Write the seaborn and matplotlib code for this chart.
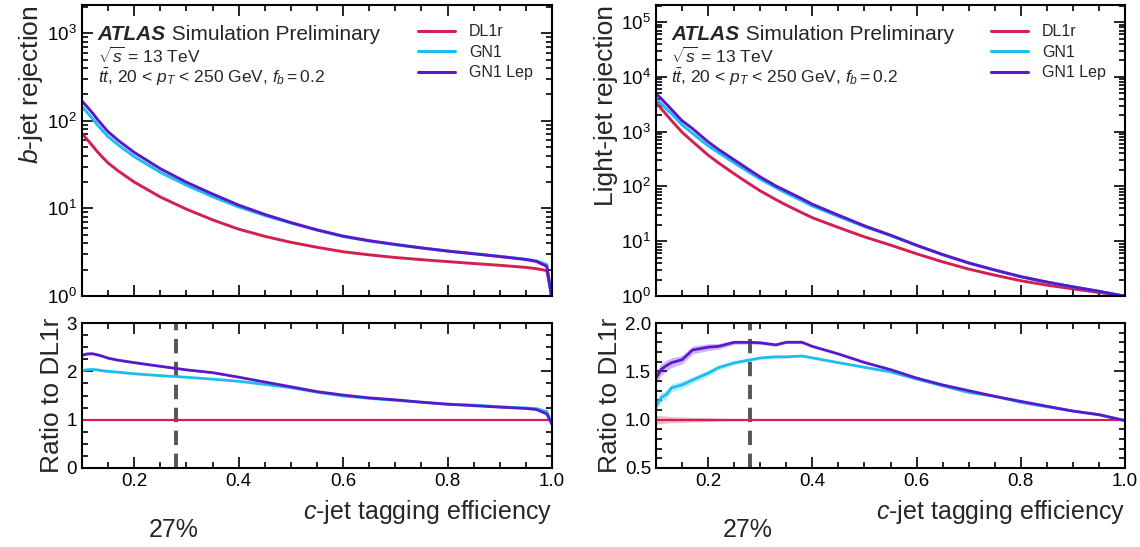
import numpy as np
import pandas as pd
import matplotlib
matplotlib.use("Agg")
import matplotlib.pyplot as plt
import seaborn as sns
from matplotlib.lines import Line2D
from matplotlib.ticker import MultipleLocator, LogLocator, NullFormatter

# ---------------------------------------------------------------- data
# b-jet rejection versus c-jet tagging efficiency
eff_b = [0.10, 0.11, 0.12, 0.13, 0.14, 0.15, 0.17, 0.20, 0.25, 0.30, 0.35, 0.40,
         0.45, 0.50, 0.55, 0.60, 0.65, 0.70, 0.75, 0.80, 0.85, 0.90, 0.95, 0.97,
         0.99, 1.00]
dl1r_b = [72, 61, 52, 44, 38, 33, 26.6, 20, 13.5, 9.8, 7.4, 5.8,
          4.8, 4.1, 3.6, 3.2, 2.95, 2.75, 2.6, 2.47, 2.35, 2.24, 2.12, 2.05,
          1.95, 1.0]
gn1_b = [145, 124, 106, 89.3, 76.4, 66, 52.7, 39, 25.8, 18.4, 13.6, 10.4,
         8.30, 6.81, 5.65, 4.77, 4.25, 3.85, 3.54, 3.26, 3.06, 2.84, 2.63, 2.52,
         2.28, 0.92]
gn1lep_b = [168, 144, 123, 103, 87.8, 75, 59.3, 43.6, 28.4, 19.9, 14.6, 10.9,
            8.54, 6.89, 5.69, 4.83, 4.28, 3.88, 3.54, 3.26, 3.03, 2.82, 2.61, 2.48,
            2.18, 0.90]
unc_b = [0.012, 0.011, 0.010, 0.010, 0.010, 0.009, 0.009, 0.008, 0.007, 0.006, 0.005, 0.005,
         0.004, 0.004, 0.004, 0.003, 0.003, 0.003, 0.003, 0.003, 0.003, 0.003, 0.003, 0.003,
         0.003, 0.003]

# light-jet rejection versus c-jet tagging efficiency
eff_l = [0.10, 0.11, 0.12, 0.13, 0.15, 0.17, 0.20, 0.22, 0.25, 0.28, 0.30, 0.33,
         0.35, 0.38, 0.40, 0.45, 0.50, 0.55, 0.60, 0.65, 0.70, 0.75, 0.80, 0.85,
         0.90, 0.95, 1.00]
dl1r_l = [3470, 2630, 2040, 1585, 977, 661, 372, 269, 170, 110, 83, 57.5,
          45.7, 33.1, 26.9, 17.8, 12.0, 8.5, 5.9, 4.2, 3.1, 2.4, 1.9, 1.58,
          1.35, 1.16, 1.0]
gn1_l = [3956, 3235, 2570, 2108, 1329, 932, 551, 414, 270, 178, 136, 94.9,
         75.4, 54.9, 44.1, 28.3, 18.5, 12.7, 8.38, 5.67, 3.97, 2.98, 2.24, 1.79,
         1.47, 1.22, 0.99]
gn1lep_l = [4960, 4000, 3180, 2520, 1583, 1137, 651, 473, 306, 198, 149, 102,
            82.3, 59.6, 47.3, 29.9, 19.1, 12.9, 8.44, 5.71, 4.03, 2.98, 2.26, 1.80,
            1.47, 1.22, 0.99]
unc_l = [0.045, 0.040, 0.036, 0.032, 0.028, 0.024, 0.020, 0.016, 0.012, 0.010, 0.009, 0.008,
         0.007, 0.006, 0.006, 0.005, 0.005, 0.004, 0.004, 0.004, 0.003, 0.003, 0.003, 0.003,
         0.003, 0.003, 0.003]

taggers = ["DL1r", "GN1", "GN1 Lep"]
palette = {"DL1r": "#d41f4f", "GN1": "#1ebdf0", "GN1 Lep": "#5a18cc"}
wp_eff = 0.28
wp_label = "27%"

# ---------------------------------------------------------------- style
sns.set_theme(style="ticks")
plt.rcParams["font.family"] = ["Liberation Sans", "DejaVu Sans"]
plt.rcParams["mathtext.fontset"] = "custom"
plt.rcParams["mathtext.rm"] = "Liberation Sans"
plt.rcParams["mathtext.it"] = "Liberation Sans:italic"
plt.rcParams["mathtext.bf"] = "Liberation Sans:bold"

W, H = 1140, 547
fig = plt.figure(figsize=(W / 100, H / 100), dpi=100)


def frac_box(x0, x1, y0, y1):
    return [x0 / W, 1 - y1 / H, (x1 - x0) / W, (y1 - y0) / H]


def style_axes(ax):
    for s in ax.spines.values():
        s.set_linewidth(1.5)
        s.set_color("black")
    ax.tick_params(which="both", direction="in", top=True, right=True,
                   colors="black", labelsize=13.5, width=1.2)
    ax.tick_params(which="major", length=8)
    ax.tick_params(which="minor", length=4)
    ax.xaxis.set_major_locator(MultipleLocator(0.2))
    ax.xaxis.set_minor_locator(MultipleLocator(0.05))
    ax.set_xlim(0.1, 1.0)


def make_frame(eff, series):
    rows = []
    for name, vals in zip(taggers, series):
        for e, v in zip(eff, vals):
            rows.append({"eff": e, "rej": v, "tagger": name})
    return pd.DataFrame(rows)


panels = [
    dict(eff=eff_b, series=[dl1r_b, gn1_b, gn1lep_b], unc=unc_b,
         x0=82, x1=552, ylabel=r"$b$-jet rejection", ymax=2100,
         rlim=(0, 3), rmajor=1, rminor=0.25, rfmt="{:.0f}"),
    dict(eff=eff_l, series=[dl1r_l, gn1_l, gn1lep_l], unc=unc_l,
         x0=656, x1=1125, ylabel="Light-jet rejection", ymax=2.05e5,
         rlim=(0.5, 2.0), rmajor=0.5, rminor=0.1, rfmt="{:.1f}"),
]

for p in panels:
    ax = fig.add_axes(frac_box(p["x0"], p["x1"], 5, 296))
    rax = fig.add_axes(frac_box(p["x0"], p["x1"], 323, 468), sharex=ax)

    df = make_frame(p["eff"], p["series"])
    sns.lineplot(data=df, x="eff", y="rej", hue="tagger", hue_order=taggers,
                 palette=palette, linewidth=2.1, estimator=None, errorbar=None,
                 legend=False, ax=ax)
    ax.set_yscale("log")
    ax.set_ylim(1, p["ymax"])
    style_axes(ax)
    ax.yaxis.set_major_locator(LogLocator(base=10, numticks=20))
    ax.yaxis.set_minor_locator(LogLocator(base=10, subs=np.arange(2, 10), numticks=100))
    ax.yaxis.set_minor_formatter(NullFormatter())
    ax.tick_params(axis="x", labelbottom=False)
    ax.set_xlabel("")
    ax.set_ylabel(p["ylabel"], fontsize=19, labelpad=2, loc="top")

    # ratio to the DL1r baseline
    ref = np.asarray(p["series"][0], dtype=float)
    unc = np.asarray(p["unc"], dtype=float)
    eff = np.asarray(p["eff"], dtype=float)
    rdf = df.copy()
    rdf["ratio"] = rdf["rej"] / np.tile(ref, len(taggers))
    for name, vals in zip(taggers, p["series"]):
        r = np.asarray(vals, dtype=float) / ref
        rax.fill_between(eff, r * (1 - unc), r * (1 + unc),
                         color=palette[name], alpha=0.3, lw=0)
    sns.lineplot(data=rdf, x="eff", y="ratio", hue="tagger", hue_order=taggers,
                 palette=palette, linewidth=2.0, estimator=None, errorbar=None,
                 legend=False, ax=rax)
    rax.lines[0].set_linewidth(1.6)
    rax.axvline(wp_eff, color="#555555", lw=2.8, ls=(0, (3.7, 2.2)), zorder=1)
    style_axes(rax)
    rax.set_ylim(*p["rlim"])
    rax.yaxis.set_major_locator(MultipleLocator(p["rmajor"]))
    rax.yaxis.set_minor_locator(MultipleLocator(p["rminor"]))
    rax.yaxis.set_major_formatter(plt.FuncFormatter(lambda v, _, f=p["rfmt"]: f.format(v)))
    rax.xaxis.set_major_formatter(plt.FuncFormatter(lambda v, _: f"{v:.1f}"))
    rax.set_ylabel("Ratio to DL1r", fontsize=19, labelpad=2)
    rax.set_xlabel(r"$c$-jet tagging efficiency", fontsize=18, loc="right", labelpad=6)

    # labels in the top-left corner
    atlas = ax.text(0.033, 0.899, "ATLAS", transform=ax.transAxes, fontsize=15,
                    fontweight="bold", fontstyle="italic", va="center", ha="left")
    ax.annotate(" Simulation Preliminary", xy=(1, 0.5), xycoords=atlas,
                fontsize=15, va="center", ha="left")
    ax.text(0.033, 0.825, r"$\sqrt{s}$ = 13 TeV", transform=ax.transAxes,
            fontsize=12.5, va="center", ha="left")
    ax.text(0.033, 0.753, r"$t\bar{t}$, 20 < $p_T$ < 250 GeV, $f_b = 0.2$",
            transform=ax.transAxes, fontsize=12.5, va="center", ha="left")

    handles = [Line2D([], [], color=palette[t], lw=2.2) for t in taggers]
    ax.legend(handles, taggers, loc="upper right", frameon=False, fontsize=11.5,
              handlelength=2.3, handletextpad=0.9, labelspacing=0.35,
              borderaxespad=0.8)

    fig.text((p["x0"] + 92) / W, 1 - 530 / H, wp_label, fontsize=18,
             ha="center", va="center")

fig.savefig("out.png", dpi=100)
